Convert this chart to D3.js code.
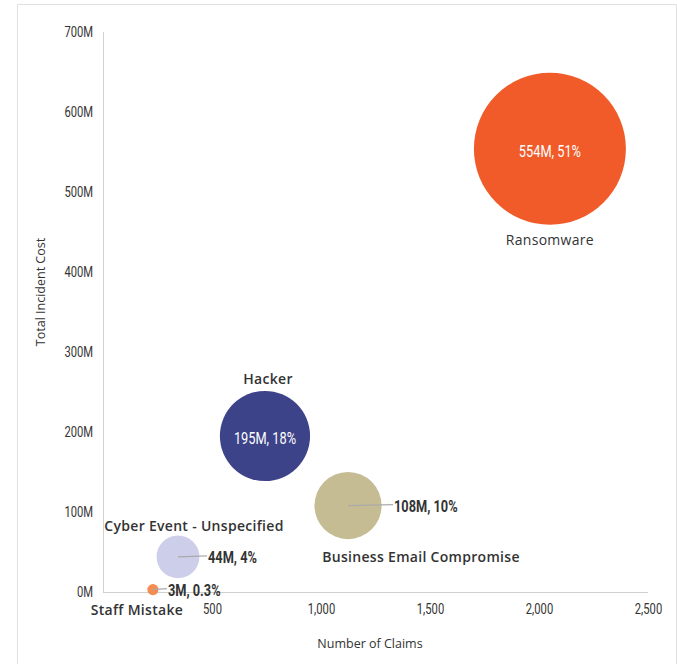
<!DOCTYPE html>
<html><head><meta charset="utf-8">
<script src="https://cdn.jsdelivr.net/npm/d3@7"></script>
<style>
body{margin:0;background:#fff;}
svg{display:block;}
.num{font-family:Roboto,"Noto Sans",sans-serif;}
.cat{font-family:"Open Sans",Lato,sans-serif;}
</style></head><body>
<svg id="c" width="677" height="664"></svg>
<script>
const categories = ["Ransomware","Hacker","Business Email Compromise","Cyber Event - Unspecified","Staff Mistake"];
const claims = [2050, 743, 1124, 344, 229];
const cost = [554, 195, 108, 44, 3];          // millions
const share = ["51%","18%","10%","4%","0.3%"];
const colors = ["#F15A29","#3D4389","#C5BC93","#CDCFEA","#F58C52"];
const yTicks = [0,100,200,300,400,500,600,700];
const xTicks = [500,1000,1500,2000,2500];

const SX = 0.8;
function condense(sel){
  sel.each(function(){
    const t=d3.select(this);
    const xv=+(t.attr("x")||0);
    t.attr("transform",`translate(${xv*(1-SX)},0) scale(${SX},1)`);
  });
}

const svg = d3.select("#c");
// frame
svg.append("path").attr("d","M17.5,664 V4.5 H676.5 V664").attr("fill","none").attr("stroke","#e0e0e0");

const x = d3.scaleLinear().domain([0,2500]).range([103,648]);
const y = d3.scaleLinear().domain([0,700]).range([592,32]);
const r = d3.scaleSqrt().domain([0,554]).range([0,76]);

// axes lines
svg.append("line").attr("x1",x(0)+0.5).attr("x2",x(0)+0.5).attr("y1",y(700)).attr("y2",y(0)).attr("stroke","#d0d0d0");
svg.append("line").attr("x1",x(0)).attr("x2",x(2500)).attr("y1",y(0)+0.5).attr("y2",y(0)+0.5).attr("stroke","#d0d0d0");

const yAxis = d3.axisLeft(y).tickValues(yTicks).tickSize(0).tickPadding(10).tickFormat(d=>d+"M");
const gy = svg.append("g").attr("transform",`translate(${x(0)},0)`).call(yAxis);
gy.select(".domain").remove();
gy.selectAll("text").attr("class","num").attr("font-size",14).attr("fill","#333").call(condense);

const xAxis = d3.axisBottom(x).tickValues(xTicks).tickSize(0).tickPadding(12).tickFormat(d3.format(","));
const gx = svg.append("g").attr("transform",`translate(0,${y(0)})`).call(xAxis);
gx.select(".domain").remove();
gx.selectAll("text").attr("class","num").attr("font-size",14).attr("fill","#333").call(condense);

// axis titles
svg.append("text").attr("class","cat").attr("font-size",12.5).attr("fill","#333").attr("font-weight",400)
  .attr("text-anchor","middle").attr("dominant-baseline","central")
  .attr("transform","translate(40,292) rotate(-90)").text("Total Incident Cost");
svg.append("text").attr("class","cat").attr("font-size",12.5).attr("fill","#333").attr("font-weight",400)
  .attr("text-anchor","middle").attr("x",370).attr("y",648).text("Number of Claims");

const data = categories.map((c,i)=>({c, n:claims[i], v:cost[i], s:share[i], col:colors[i]}));

svg.append("g").selectAll("circle").data(data).join("circle")
  .attr("cx",d=>x(d.n)).attr("cy",d=>y(d.v)).attr("r",d=>r(d.v)).attr("fill",d=>d.col);

const valText = d=>`${d.v}M, ${d.s}`;
// inside labels: Ransomware, Hacker
[0,1].forEach(i=>{
  const d=data[i];
  svg.append("text").attr("class","num").attr("font-size",16).attr("fill","#fff")
    .attr("text-anchor","middle").attr("dominant-baseline","central")
    .attr("x",x(d.n)).attr("y",y(d.v)+3).text(valText(d)).call(condense);
});
// leader labels: BEC, Cyber, Staff
[[2,45],[3,29],[4,14]].forEach(([i,len])=>{
  const d=data[i], cx=x(d.n), cy=y(d.v);
  svg.append("line").attr("x1",cx).attr("y1",cy).attr("x2",cx+len).attr("y2",cy-1).attr("stroke","#aaa").attr("stroke-width",1.3);
  svg.append("text").attr("class","num").attr("font-size",16).attr("font-weight","bold").attr("fill","#333")
    .attr("dominant-baseline","central").attr("x",cx+len+1).attr("y",cy+1).text(valText(d)).call(condense);
});
// category labels
const catPos = [
  {i:0, dx:0, dy:r(554)+15},
  {i:1, dx:3, dy:-r(195)-12},
  {i:2, dx:73, dy:r(108)+17},
  {i:3, dx:16, dy:-r(44)-10},
  {i:4, dx:-16, dy:20}
];
catPos.forEach(p=>{
  const d=data[p.i];
  svg.append("text").attr("class","cat").attr("font-size",14).attr("letter-spacing",0.3)
    .attr("font-weight",p.i===0?500:600).attr("fill","#333")
    .attr("text-anchor","middle").attr("dominant-baseline","central")
    .attr("x",x(d.n)+p.dx).attr("y",y(d.v)+p.dy).text(d.c);
});
</script></body></html>
